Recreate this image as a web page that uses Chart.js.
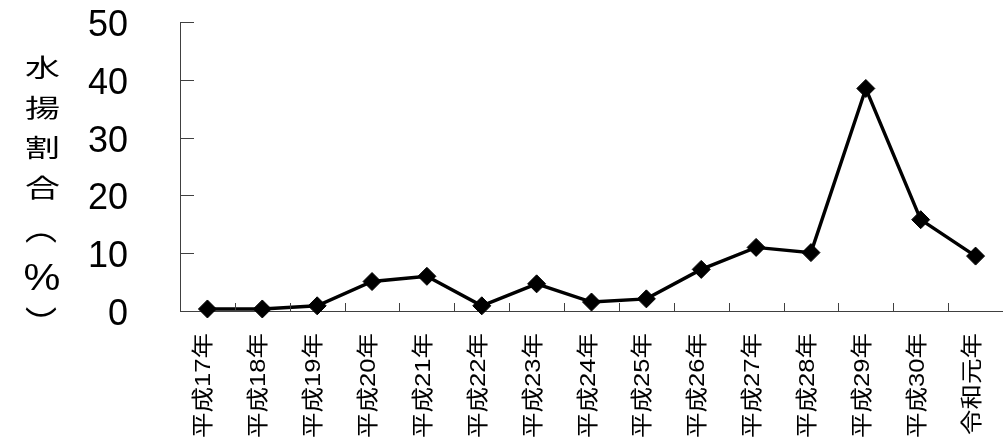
<!DOCTYPE html>
<html>
<head>
<meta charset="utf-8">
<script src="https://cdn.jsdelivr.net/npm/chart.js@4/dist/chart.umd.min.js"></script>
<style>
  html, body { margin: 0; padding: 0; background: #ffffff; }
  #wrap { width: 1003px; height: 444px; }
</style>
</head>
<body>
<div id="wrap"><canvas id="c" width="1003" height="444"></canvas></div>
<script>
// Fiscal years on the horizontal axis
const years = [
  '平成17年', '平成18年', '平成19年', '平成20年', '平成21年',
  '平成22年', '平成23年', '平成24年', '平成25年', '平成26年',
  '平成27年', '平成28年', '平成29年', '平成30年', '令和元年'
];

// Landing ratio per year (%)
const landingRatio = [0.35, 0.35, 0.9, 5.1, 6.0, 0.9, 4.7, 1.55, 2.1, 7.2, 11.0, 10.1, 38.5, 15.8, 9.5];

// Vertical axis ticks
const yTicks = [0, 10, 20, 30, 40, 50];

// Vertical axis title, one character per row (vertical-form brackets)
const yTitleChars = ['水', '揚', '割', '合', '\uFE35', '%', '\uFE36'];

const AXIS_COLOR = '#404040';
const LATIN = '"Liberation Sans", Arial, sans-serif';
const CJK = '"Liberation Sans", "Noto Sans CJK JP", sans-serif';

// Draws a glyph with its inked box centred on (cx, cy), optionally stretched to a set width
function drawCentredGlyph(ctx, ch, font, cx, cy, stretch, targetWidth) {
  ctx.save();
  ctx.font = font;
  ctx.textAlign = 'left';
  ctx.textBaseline = 'alphabetic';
  const m = ctx.measureText(ch);
  const inkL = m.actualBoundingBoxLeft, inkR = m.actualBoundingBoxRight;
  const inkA = m.actualBoundingBoxAscent, inkD = m.actualBoundingBoxDescent;
  const inkW = inkR + inkL;
  const sx = targetWidth ? targetWidth / Math.max(inkW, 1) : stretch;
  ctx.translate(cx, cy);
  ctx.scale(sx, 1);
  ctx.fillText(ch, -(inkR - inkL) / 2, (inkA - inkD) / 2);
  ctx.restore();
}

// Inner tick marks, rotated year labels and the stacked axis title
const axisDecor = {
  id: 'axisDecor',
  afterDraw(chart) {
    const ctx = chart.ctx;
    const xs = chart.scales.x;
    const ys = chart.scales.y;
    const { left, bottom } = chart.chartArea;

    ctx.save();
    ctx.strokeStyle = AXIS_COLOR;
    ctx.lineWidth = 1;
    ctx.beginPath();
    yTicks.forEach(v => {
      const py = Math.round(ys.getPixelForValue(v)) + 0.5;
      ctx.moveTo(left, py);
      ctx.lineTo(left + 14, py);
    });
    for (let i = 1; i <= years.length; i++) {
      const px = Math.round(xs.getPixelForValue(i - 0.5)) + 0.5;
      ctx.moveTo(px, bottom);
      ctx.lineTo(px, bottom - 8);
    }
    ctx.stroke();

    // Year labels, reading upwards
    ctx.fillStyle = '#000000';
    ctx.font = '22px ' + CJK;
    ctx.textAlign = 'right';
    ctx.textBaseline = 'middle';
    chart.data.labels.forEach((label, i) => {
      const px = xs.getPixelForValue(i);
      ctx.save();
      ctx.translate(px - 3, bottom + 22);
      ctx.rotate(-Math.PI / 2);
      ctx.scale(1.16, 1);
      ctx.fillText(label, 0, 0);
      ctx.restore();
    });

    // Stacked title
    const rows = [67.5, 107.5, 147.5, 187, 238, 277, 312];
    yTitleChars.forEach((ch, i) => {
      if (ch === '\uFE35' || ch === '\uFE36') {
        drawCentredGlyph(ctx, ch, '36px "Noto Sans CJK JP", sans-serif', 41, rows[i], 1, 32);
      } else if (ch === '%') {
        drawCentredGlyph(ctx, ch, '36px ' + LATIN, 42, rows[i], 1.15, 0);
      } else {
        drawCentredGlyph(ctx, ch, '25px "Noto Sans CJK JP", sans-serif', 42.5, rows[i], 1.4, 0);
      }
    });
    ctx.restore();
  }
};

new Chart(document.getElementById('c'), {
  type: 'line',
  data: {
    labels: years,
    datasets: [{
      data: landingRatio,
      borderColor: '#000000',
      backgroundColor: '#000000',
      borderWidth: 3.4,
      pointStyle: 'rectRot',
      pointRadius: 9,
      pointBorderWidth: 1,
      pointBackgroundColor: '#000000',
      pointBorderColor: '#000000',
      tension: 0,
      clip: false
    }]
  },
  options: {
    responsive: false,
    devicePixelRatio: 1,
    animation: false,
    layout: { autoPadding: false, padding: { top: 22, right: 0, bottom: 0, left: 0 } },
    plugins: {
      legend: { display: false },
      tooltip: { enabled: false },
      title: { display: false }
    },
    scales: {
      x: {
        type: 'category',
        offset: true,
        grid: { display: false, offset: true },
        border: { display: true, color: AXIS_COLOR, width: 1 },
        ticks: { display: false },
        afterFit(scale) { scale.height = 133; }
      },
      y: {
        min: 0,
        max: 50,
        afterBuildTicks(scale) { scale.ticks = yTicks.map(v => ({ value: v })); },
        grid: { display: false, drawTicks: true, tickLength: 52 },
        border: { display: true, color: AXIS_COLOR, width: 1 },
        ticks: {
          color: '#000000',
          padding: 0,
          labelOffset: 4,
          font: { family: 'Liberation Sans', size: 36 }
        },
        afterFit(scale) { scale.width = 180; }
      }
    }
  },
  plugins: [axisDecor]
});
</script>
</body>
</html>
